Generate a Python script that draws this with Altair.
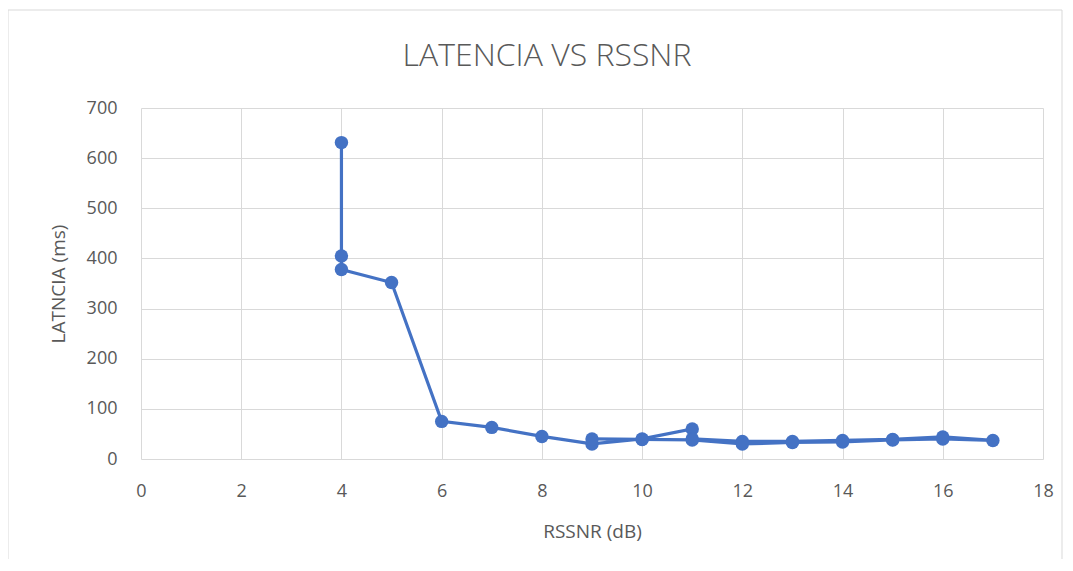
import altair as alt
import pandas as pd

# data, in plotted (connection) order
rssnr = [4, 4, 4, 5, 6, 7, 8, 9, 10, 11, 11, 12, 13, 14, 15, 16, 17,
         16, 15, 14, 13, 12, 11, 10, 9]
latencia = [631, 405, 378, 352, 75, 63, 45, 30, 40, 60, 40, 35, 35, 37, 39, 44, 37,
            40, 38, 34, 33, 30, 38, 39, 40]
x_ticks = [0, 2, 4, 6, 8, 10, 12, 14, 16, 18]
y_ticks = [0, 100, 200, 300, 400, 500, 600, 700]

df = pd.DataFrame({"rssnr": rssnr, "lat": latencia, "orden": list(range(len(rssnr)))})

FONT = "Open Sans"
GREY = "#595959"
BLUE = "#4472C4"

x = alt.X("rssnr:Q", scale=alt.Scale(domain=[0, 18], nice=False),
          axis=alt.Axis(values=x_ticks, title="RSSNR (dB)", grid=True, ticks=False,
                        domain=False, labelFlush=False, labelPadding=23, titlePadding=22))
y = alt.Y("lat:Q", scale=alt.Scale(domain=[0, 700], nice=False),
          axis=alt.Axis(values=y_ticks, title="LATNCIA (ms)", grid=True, ticks=False,
                        domain=False, labelFlush=False, labelPadding=24, titlePadding=18))

base = alt.Chart(df)
line = base.mark_line(color=BLUE, strokeWidth=3.2).encode(x=x, y=y, order="orden:Q")
pts = base.mark_circle(color=BLUE, size=180, opacity=1).encode(x="rssnr:Q", y="lat:Q")

frame = alt.Chart(pd.DataFrame({"k": [0]})).mark_rect(
    fill=None, stroke="#d9d9d9", strokeWidth=1, clip=False
).encode(x=alt.value(-133), x2=alt.value(1054 - 133), y=alt.value(-98), y2=alt.value(700))

chart = alt.layer(frame, line, pts).properties(
    width=902, height=351,
    autosize=alt.AutoSizeParams(type="none"),
    padding={"left": 133, "top": 100, "right": 20, "bottom": 100},
    title=alt.TitleParams("LATENCIA VS RSSNR", anchor="middle", frame="bounds",
                          dx=12, dy=88, offset=0, baseline="alphabetic",
                          font=FONT, fontSize=32, fontWeight=300, color=GREY),
).configure_axis(
    labelFont=FONT, labelFontSize=18, labelColor=GREY,
    titleFont=FONT, titleFontSize=19, titleColor=GREY, titleFontWeight="normal",
    gridColor="#d9d9d9", gridWidth=1,
).configure_view(stroke=None)

chart.save("out.html", embed_options={"renderer": "svg", "actions": False})
